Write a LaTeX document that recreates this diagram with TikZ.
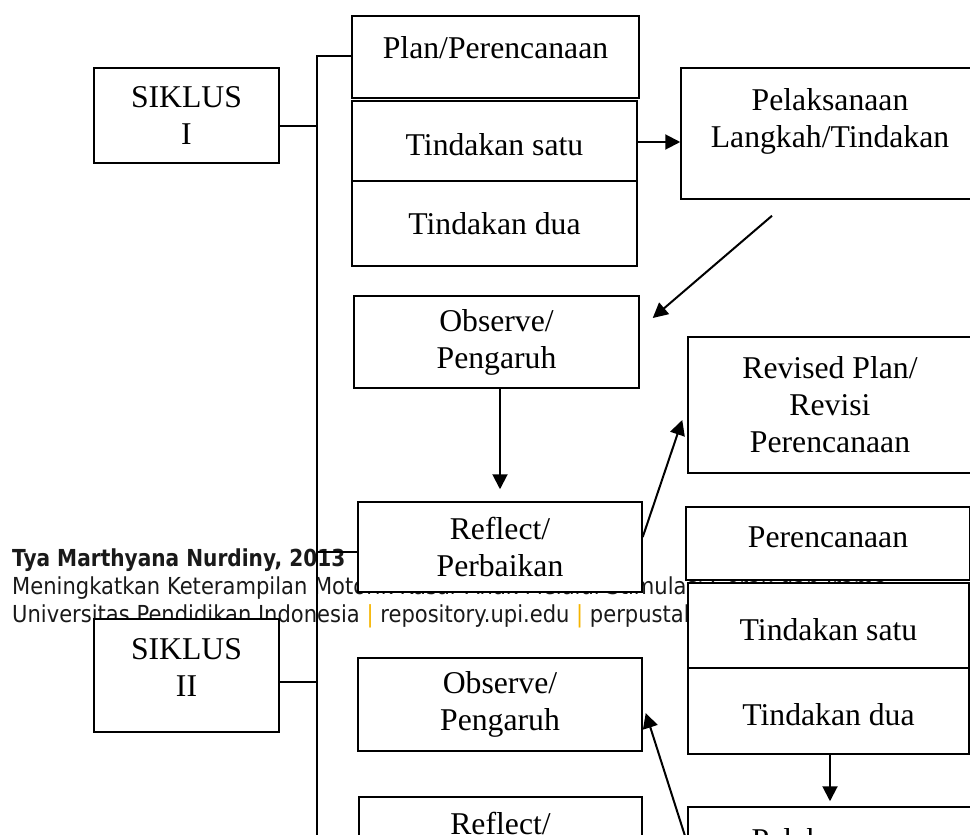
\documentclass[tikz,border=0pt]{standalone}
\usepackage{fontspec}
\usepackage{tikz}
\usetikzlibrary{arrows.meta,calc}
\setmainfont{Liberation Serif}
\newfontfamily\kakifont[FakeStretch=0.9,BoldFeatures={FakeStretch=0.86}]{DejaVu Sans}
\newcommand{\kotakfont}{\fontsize{31.7}{37}\selectfont}
\definecolor{upikuning}{RGB}{245,180,0}
\definecolor{kakiteks}{RGB}{25,25,25}
\tikzstyle{kotak}=[draw, fill=white, line width=1.5pt, align=center, inner sep=0pt, font=\kotakfont]
\tikzstyle{kaki}=[anchor=base west, inner sep=0pt, text=kakiteks, font=\kakifont\fontsize{23.4}{28}\selectfont]
\tikzstyle{garis}=[line width=1.5pt]
\tikzstyle{panah}=[line width=2pt, -{Triangle[length=15pt,width=15pt]}]

\begin{document}
\begin{tikzpicture}[x=1pt,y=-1pt]
    \useasboundingbox (0,0) rectangle (970,835);
    % teks kaki halaman (tertutup sebagian oleh kotak)
    \node [kaki] (kaki1) at (12,566) {\bfseries Tya Marthyana Nurdiny, 2013};
    \node [kaki] (kaki2) at (12,594) {Meningkatkan Keterampilan Motorik Kasar Anak Melalui Stimulasi Gerak dan Irama};
    \node [kaki] (kaki3) at (12,622) {Universitas Pendidikan Indonesia \textcolor{upikuning}{|} repository.upi.edu \textcolor{upikuning}{|} perpustakaan.upi.edu};
    % siklus
    \node [kotak, minimum width=185pt, minimum height=95pt] (sikI) at (186.5,115.5) {SIKLUS\\I};
    \node [kotak, minimum width=185pt, minimum height=113pt, text depth=17pt] (sikII) at (186.5,675.5) {SIKLUS\\II};
    % siklus I
    \node [kotak, minimum width=287pt, minimum height=82pt, text depth=18pt] (planI) at (495.5,57) {Plan/Perencanaan};
    \node [kotak, minimum width=285pt, minimum height=82pt, text height=28pt] (tsI) at (494.5,142) {Tindakan satu};
    \node [kotak, minimum width=285pt, minimum height=85pt] (tdI) at (494.5,223.5) {Tindakan dua};
    \node [kotak, minimum width=298pt, minimum height=131pt, text depth=30pt] (pelI) at (830,133.5) {Pelaksanaan\\Langkah/Tindakan};
    \node [kotak, minimum width=285pt, minimum height=92pt] (obsI) at (496.5,342) {Observe/\\Pengaruh};
    \node [kotak, minimum width=284pt, minimum height=90pt] (refI) at (500,547) {Reflect/\\Perbaikan};
    \node [kotak, minimum width=284pt, minimum height=136pt] (revP) at (830,405) {Revised Plan/\\Revisi\\Perencanaan};
    % siklus II
    \node [kotak, minimum width=284pt, minimum height=73pt, text depth=12pt] (perII) at (828,543.5) {Perencanaan};
    \node [kotak, minimum width=281pt, minimum height=85pt, text height=31pt] (tsII) at (828.5,625.5) {Tindakan satu};
    \node [kotak, minimum width=281pt, minimum height=86pt, text height=30pt] (tdII) at (828.5,711) {Tindakan dua};
    \node [kotak, minimum width=284pt, minimum height=131pt, text depth=30pt] (pelII) at (830,872.5) {Pelaksanaan\\Langkah/Tindakan};
    \node [kotak, minimum width=284pt, minimum height=93pt] (obsII) at (500,704.5) {Observe/\\Pengaruh};
    \node [kotak, minimum width=283pt, minimum height=90pt] (refII) at (500.5,842) {Reflect/\\Perbaikan};
    % garis tegak
    \coordinate (atas) at (317,56);
    \coordinate (bawah) at (317,845);
    \draw [garis] (bawah) -- (atas) -- (atas -| planI.west);
    \draw [garis] ([yshift=-10.5pt]sikI.east) -- ([yshift=-10.5pt]sikI.east -| atas);
    \draw [garis] ([yshift=-6.5pt]sikII.east) -- ([yshift=-6.5pt]sikII.east -| atas);
    \draw [garis] ([yshift=-5pt]refI.west -| atas) -- ([yshift=-5pt]refI.west);
    % panah
    \draw [panah] (tsI.east) -- (tsI.east -| pelI.west);
    \draw [panah] ($(pelI.south)+(-58,16)$) -- ($(obsI.east)+(13,-24)$);
    \draw [panah, shorten >=12pt] (refI.north |- obsI.south) -- (refI.north);
    \draw [panah] ($(refI.east)+(0,-10)$) -- ($(revP.west)+(-5,15)$);
    \draw [panah, shorten >=5pt] (tdII.south -| pelII.north) -- (pelII.north);
    \draw [panah] ($(pelII.west)+(0,-29.5)$) -- ($(obsII.east)+(3,8.5)$);
\end{tikzpicture}
\end{document}
